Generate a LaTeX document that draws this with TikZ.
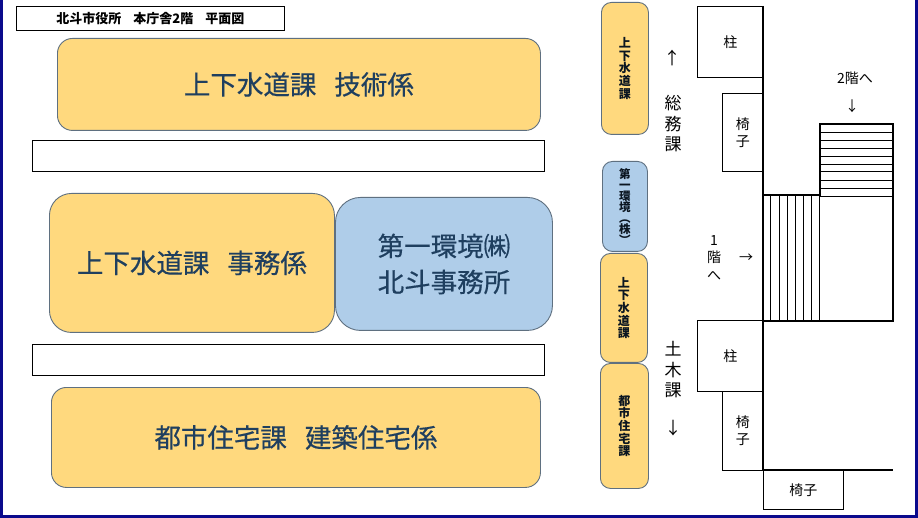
\documentclass[tikz,border=0pt]{standalone}
\usepackage{fontspec}
\setmainfont{Noto Sans CJK JP}
\newfontfamily\roomfont[FakeBold=0.5]{Noto Sans CJK JP}
\usepackage{xcolor}
\definecolor{roomyellow}{HTML}{FFD97E}
\definecolor{roomblue}{HTML}{AFCDE9}
\definecolor{roomline}{HTML}{5F7080}
\definecolor{roomtext}{HTML}{1F3F5F}
\definecolor{frameblue}{HTML}{0A0A8C}
\tikzstyle{room}=[draw=roomline,line width=.9pt,text=roomtext,anchor=north west,inner sep=0pt,align=center]
\tikzstyle{yellowroom}=[room,fill=roomyellow]
\tikzstyle{blueroom}=[room,fill=roomblue]
\tikzstyle{bigtext}=[font=\fontsize{26.5}{36}\roomfont\selectfont]
\tikzstyle{sidetext}=[font=\fontsize{12}{12.6}\selectfont\bfseries,text=black!65!roomtext]
\tikzstyle{plain}=[draw=black,fill=white,line width=.9pt,anchor=north west,inner sep=0pt,align=center,font=\fontsize{14}{17}\selectfont]
\tikzstyle{label}=[inner sep=0pt,align=center,font=\fontsize{14}{17}\selectfont]
\tikzstyle{wall}=[draw=black,line width=1.8pt]
\tikzstyle{tread}=[draw=black,line width=.8pt]
\begin{document}
\begin{tikzpicture}[x=1pt,y=-1pt]
	\useasboundingbox (0,0) rectangle (918,518);
	\draw[frameblue,line width=3pt,fill=white] (1,-2) rectangle (916.5,516.5);
	% title and empty corridors
	\node[plain,minimum width=268pt,minimum height=24pt,font=\fontsize{13}{15}\selectfont\bfseries] (title) at (16,6) {北斗市役所\hspace{12pt}本庁舎2階\hspace{12pt}平面図};
	\node[plain,minimum width=512pt,minimum height=31pt] (corridortop) at (32,140) {};
	\node[plain,minimum width=512pt,minimum height=31pt] (corridorbottom) at (32,344) {};
	% rooms
	\node[yellowroom,bigtext,rounded corners=15pt,minimum width=483pt,minimum height=92pt] (gijutsu) at (57,38) {上下水道課\hspace{18pt}技術係};
	\node[yellowroom,bigtext,rounded corners=22pt,minimum width=285pt,minimum height=139pt] (jimu) at (49,193) {上下水道課\hspace{18pt}事務係};
	\node[blueroom,bigtext,rounded corners=25pt,minimum width=217pt,minimum height=133pt] (daiichi) at (335,197) {第一環境㈱\\北斗事務所};
	\node[yellowroom,bigtext,rounded corners=15pt,minimum width=489pt,minimum height=100pt] (kenchiku) at (51,387) {都市住宅課\hspace{18pt}建築住宅係};
	% side strip
	\node[yellowroom,sidetext,rounded corners=10pt,minimum width=47pt,minimum height=132pt] (sideone) at (601,2) {上\\下\\水\\道\\課};
	\node[blueroom,sidetext,rounded corners=10pt,minimum width=45pt,minimum height=90pt,font=\fontsize{11.5}{10.8}\selectfont\bfseries] (sidetwo) at (602,161) {第\\一\\環\\境\\︵\\株\\︶};
	\node[yellowroom,sidetext,rounded corners=10pt,minimum width=47pt,minimum height=109pt] (sidethree) at (600,253) {上\\下\\水\\道\\課};
	\node[yellowroom,sidetext,rounded corners=10pt,minimum width=48pt,minimum height=125pt] (sidefour) at (600,363) {都\\市\\住\\宅\\課};
	% labels
	\node[label,font=\fontsize{17}{20.5}\selectfont] (soumu) at (673,124) {総\\務\\課};
	\node[label,font=\fontsize{17}{20.5}\selectfont] (doboku) at (673,370) {土\\木\\課};
	\node[label,font=\fontsize{17}{20}\selectfont] (upsoumu) at (672,58) {↑};
	\node[label,font=\fontsize{17}{20}\selectfont] (downdoboku) at (673,428) {↓};
	\node[label] (toupper) at (855,78) {2階へ};
	\node[label] (toupperarrow) at (852,106) {↓};
	\node[label,font=\fontsize{14}{17.5}\selectfont] (tolower) at (714,258) {1\\階\\へ};
	\node[label] (tolowerarrow) at (746,258) {→};
	% columns and chairs
	\node[plain,minimum width=66pt,minimum height=71pt] (pillarone) at (697,6) {柱};
	\node[plain,minimum width=41pt,minimum height=78pt] (chairone) at (722,93) {椅\\子};
	\node[plain,minimum width=66pt,minimum height=71pt] (pillartwo) at (697,320) {柱};
	\node[plain,minimum width=41pt,minimum height=79pt] (chairtwo) at (722,391) {椅\\子};
	\node[plain,minimum width=80pt,minimum height=39pt] (chairthree) at (763,470) {椅子};
	% stairs
	\foreach \y in {132,140,148,156,164,171,180,188,196}
		\draw[tread] (820,\y) -- (893,\y);
	\foreach \x in {770,779,787,795,803,811,819}
		\draw[tread] (\x,196) -- (\x,321);
	\draw[wall] (763,6) -- (763,470) -- (893,470);
	\draw[wall] (763,195) -- (820,195) -- (820,124) -- (893,124) -- (893,321) -- (763,321);
\end{tikzpicture}
\end{document}
